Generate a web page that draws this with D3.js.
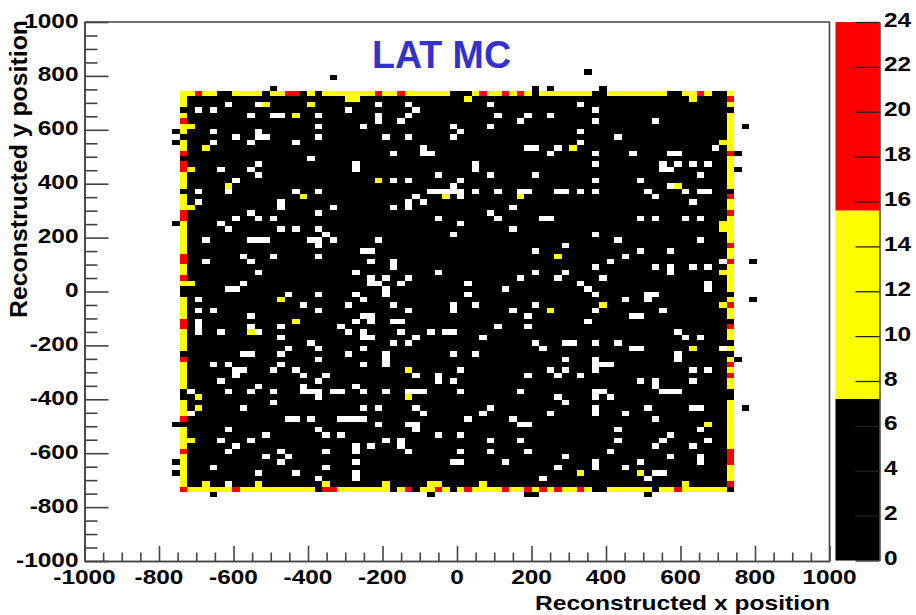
<!DOCTYPE html>
<html>
<head>
<meta charset="utf-8">
<script src="https://cdn.jsdelivr.net/npm/d3@7"></script>
<style>
  html, body { margin: 0; padding: 0; background: #fff; }
  svg { display: block; }
  text { font-family: "Liberation Sans", Arial, sans-serif; fill: #000; }
</style>
</head>
<body>
<svg id="chart"></svg>
<script>
// Colour bands of the palette, and the counts read for each colour
const bandStops = [0, 7.2, 15.6, 24];
const bandColors = ["#000000", "#ffff00", "#ff0000"];
const paletteTicks = [0, 2, 4, 6, 8, 10, 12, 14, 16, 18, 20, 22, 24];
const axisTicks = [-1000, -800, -600, -400, -200, 0, 200, 400, 600, 800, 1000];
const codeCounts = { b: 3, y: 12, r: 20 };

// The filled area is 74 x 74 bins, row 0 on top. Outer bins as code strings
const topRow = "yy r yy bb yyyy b yy rr b y b yyyyyyy r yy r yyyyyy bbb y r yy r y r y b yyyyyyy bb yyyyyyyy bb yy r y bb y";
const bottomRow = "r yyyyyy r yyyyyyyyyy b rr yyyyyyy b y r b yy r y b y r yyyy r yy r y r y r yy r y bb yyyyyy b yy r yyyyyy b";
const leftCol = "yyy b y r yy b yy r b rr yyy b yyy rr yyyyyy rr yy r y bb yyyy rr yyyy b r yyyyy bb yyy r b yyyy r yyyyyy r";
const rightCol = "y r y b yyyyyyy r yyyyyy b r yy r yyyyy r yy r yyyyy b y r yy b r yy b y b y r y r yy bb yyyyyyyyy rrr yyy r b";

// Empty bins per row: first number is the row, the rest are columns
const emptyBins = [
  [2, 6, 10, 26, 30, 41, 53],
  [3, 2, 4, 22, 31, 55],
  [4, 9, 12, 13, 18, 26, 30, 42, 46, 49],
  [5, 26, 29, 45, 55, 63],
  [6, 18, 24, 36, 41],
  [7, 4, 10, 37, 53],
  [8, 7, 10, 11, 18, 27, 30, 36, 58],
  [9, 4, 9, 15, 53],
  [10, 32, 46, 47, 50, 71],
  [11, 28, 32, 33, 49, 55, 60, 65, 66],
  [12, 17],
  [13, 10, 23, 39, 55, 64, 66, 68, 70],
  [14, 5, 9, 23, 39, 64, 65],
  [15, 10, 34, 41, 47, 69],
  [16, 7, 28, 30, 37, 55, 61],
  [17, 36, 65],
  [18, 2, 6, 15, 18, 33, 34, 35, 36, 37, 39, 42, 45, 46, 50, 51, 53, 55, 62, 67, 69, 70],
  [19, 31, 37, 63],
  [20, 2, 13, 30, 32, 68],
  [21, 13, 20, 28, 30, 44],
  [22, 9, 18, 41],
  [23, 7, 10, 12, 34, 42, 48, 49, 61, 63, 67, 69],
  [24, 5, 37],
  [25, 6, 13, 15, 18, 44],
  [26, 19, 36, 55],
  [27, 3, 9, 10, 11, 17, 18, 20, 26, 58, 69],
  [28, 18, 51],
  [29, 24, 25, 47, 61, 65],
  [30, 8, 12, 18, 59],
  [31, 3, 9, 25, 28, 57, 72],
  [32, 28, 55, 63, 65, 68, 70],
  [33, 10, 23, 34, 47, 51, 65],
  [34, 25, 27, 30, 45, 50, 56],
  [35, 8, 25, 26, 29, 38, 53, 70],
  [36, 6, 7, 27, 43, 54, 70],
  [37, 14, 18, 23, 27, 38, 55, 62, 63],
  [38, 2, 24, 59, 62],
  [39, 16, 22, 28, 36, 39, 47],
  [40, 2, 4, 18, 30, 36, 44, 55, 64],
  [41, 9, 24, 25, 46, 60, 61],
  [42, 2, 23, 25, 28, 29, 54],
  [43, 2, 9, 13, 21, 42, 46],
  [44, 2, 5, 10, 22, 24, 29, 33, 35, 36, 66],
  [45, 13, 24, 25, 31, 40, 67, 69],
  [46, 17, 28, 30, 47, 51, 52, 55, 58],
  [47, 14, 18, 24, 48, 60, 61, 72],
  [48, 8, 9, 13, 22, 27, 36, 39, 66],
  [49, 18, 27, 51, 55, 66],
  [50, 4, 6, 13, 24, 27, 55, 56, 57],
  [51, 7, 8, 12, 15, 37, 49, 51, 55, 68, 70],
  [52, 7, 16, 19, 31, 34, 46, 50, 53],
  [53, 5, 18, 34, 36, 61, 63, 68],
  [54, 10, 16, 23, 63],
  [55, 1, 6, 9, 12, 16, 17, 18, 20, 21, 24, 27, 30, 31, 32, 37, 45, 55, 56, 64, 65, 66],
  [56, 18, 50, 55, 57],
  [57, 12, 51],
  [58, 8, 24, 26, 31, 41, 55, 62, 68, 69],
  [59, 1, 32, 40, 49, 55, 59],
  [60, 14, 15, 17, 21, 22, 23, 24, 38, 44, 63],
  [61, 26, 30, 31, 45, 46],
  [62, 6, 18, 31, 58, 69],
  [63, 11, 19, 21, 34, 37, 65],
  [64, 5, 9, 27, 29, 41, 45, 58, 64, 70],
  [65, 7, 23, 25, 29, 63, 68],
  [66, 6, 13, 19, 23, 30, 37, 41, 46, 57],
  [67, 11, 14, 51, 65, 69],
  [68, 13, 23, 36, 37, 43, 55, 61, 69],
  [69, 4, 19, 50, 55, 59],
  [70, 10, 15, 23, 63, 64],
  [71, 18, 23, 48, 62],
  [72, 6]
];

// Inner bins with a higher count, [row, col]
const yellowBins = [
  [1, 22], [1, 23], [1, 38], [1, 68], [2, 11], [2, 17], [4, 15], [6, 1], [9, 72], [10, 3], [10, 52],
  [14, 1], [16, 26], [17, 6], [17, 66], [19, 16], [19, 35], [19, 45], [21, 1], [24, 72], [25, 72],
  [30, 50], [33, 72], [35, 1], [38, 13], [39, 56], [39, 72], [40, 49], [42, 15], [44, 9], [47, 68],
  [51, 30], [56, 2], [56, 30], [58, 2], [61, 70], [64, 1], [70, 53], [70, 61], [72, 3], [72, 10],
  [72, 19], [72, 27], [72, 33], [72, 34], [72, 40], [72, 67]
];

// Black bins outside the filled area, [row, col]
const outlierBins = [
  [-4, 54], [-3, 20], [-1, 12], [-1, 47], [-1, 49], [-1, 56], [6, 75], [7, -1], [9, -1], [11, 74],
  [14, 74], [24, -1], [31, 76], [38, 76], [49, 74], [58, 75], [61, -1], [68, -1], [70, -1],
  [74, 4], [74, 33], [74, 46], [74, 47], [74, 62]
];

const width = 916, height = 615;
const margin = { top: 22, right: 86.5, bottom: 54, left: 84.5 };
const binCount = 74, binExtent = 744;

const svg = d3.select("#chart").attr("width", width).attr("height", height);

const xScale = d3.scaleLinear().domain([-1000, 1000]).range([margin.left, width - margin.right]);
const yScale = d3.scaleLinear().domain([-1000, 1000]).range([height - margin.bottom, margin.top]);
const colBin = d3.scaleLinear().domain([0, binCount]).range([-binExtent, binExtent]);
const rowBin = d3.scaleLinear().domain([0, binCount]).range([binExtent, -binExtent]);
const colorScale = d3.scaleThreshold().domain(bandStops.slice(1, 3)).range(bandColors);

// Turn the lists into bins
const codes = s => s.replace(/ /g, "");
const grid = d3.range(binCount).map(() => d3.range(binCount).map(() => codeCounts.b));
codes(topRow).split("").forEach((c, i) => { grid[0][i] = codeCounts[c]; });
codes(bottomRow).split("").forEach((c, i) => { grid[binCount - 1][i] = codeCounts[c]; });
codes(leftCol).split("").forEach((c, i) => { grid[i][0] = codeCounts[c]; });
codes(rightCol).split("").forEach((c, i) => { grid[i][binCount - 1] = codeCounts[c]; });
yellowBins.forEach(([r, c]) => { grid[r][c] = codeCounts.y; });
emptyBins.forEach(([r, ...cols]) => cols.forEach(c => { grid[r][c] = 0; }));

const cells = [];
grid.forEach((row, r) => row.forEach((count, c) => {
  if (count > 0) cells.push({ row: r, col: c, count: count });
}));
outlierBins.forEach(([r, c]) => cells.push({ row: r, col: c, count: codeCounts.b }));

svg.append("g")
  .attr("class", "cells")
  .style("filter", "blur(0.45px)")
  .selectAll("rect")
  .data(cells)
  .join("rect")
  .attr("x", d => xScale(colBin(d.col)))
  .attr("y", d => yScale(rowBin(d.row)))
  .attr("width", d => xScale(colBin(d.col + 1)) - xScale(colBin(d.col)))
  .attr("height", d => yScale(rowBin(d.row + 1)) - yScale(rowBin(d.row)))
  .attr("shape-rendering", "crispEdges")
  .attr("fill", d => colorScale(d.count));

// Frame on top and right
const axisColor = "#444";
svg.append("path")
  .attr("d", `M${xScale(-1000)},${yScale(1000)}H${xScale(1000)}V${yScale(-1000)}`)
  .attr("fill", "none")
  .attr("stroke", axisColor)
  .attr("stroke-width", 1.6);

const minorTicks = d3.range(-1000, 1001, 50).filter(v => v % 200 !== 0);

function styleAxis(g) {
  g.selectAll("path, line").attr("stroke", axisColor).attr("stroke-width", 1.6);
}

// Tick labels of the source are stretched wide, so labels are drawn by hand below
const xMinor = svg.append("g")
  .attr("transform", `translate(0,${yScale(-1000)})`)
  .call(d3.axisTop(xScale).tickValues(minorTicks).tickSize(8.5).tickSizeOuter(0).tickFormat(""));
const xMajor = svg.append("g")
  .attr("transform", `translate(0,${yScale(-1000)})`)
  .call(d3.axisTop(xScale).tickValues(axisTicks).tickSize(15).tickSizeOuter(0).tickFormat(""));
const yMinor = svg.append("g")
  .attr("transform", `translate(${xScale(-1000)},0)`)
  .call(d3.axisRight(yScale).tickValues(minorTicks).tickSize(13).tickSizeOuter(0).tickFormat(""));
const yMajor = svg.append("g")
  .attr("transform", `translate(${xScale(-1000)},0)`)
  .call(d3.axisRight(yScale).tickValues(axisTicks).tickSize(24).tickSizeOuter(0).tickFormat(""));
[xMinor, xMajor, yMinor, yMajor].forEach(styleAxis);

const stretch = 1.22;
function wideText(x, y, anchor, label, size) {
  svg.append("text")
    .attr("transform", `translate(${x},${y}) scale(${stretch},1)`)
    .attr("text-anchor", anchor)
    .attr("font-size", size)
    .attr("font-weight", "bold")
    .text(label);
}
axisTicks.forEach(v => {
  wideText(xScale(v), 584, "middle", String(v), 20);
  wideText(78.5, yScale(v) + 5.5, "end", String(v), 20);
});

// Palette
const paletteX = 835.5, paletteW = 44;
const zScale = d3.scaleLinear().domain([0, 24]).range([560.5, 22]);
const bands = d3.range(bandColors.length).map(i => ({ from: bandStops[i], to: bandStops[i + 1], color: bandColors[i] }));
svg.append("g")
  .selectAll("rect")
  .data(bands)
  .join("rect")
  .attr("x", paletteX)
  .attr("width", paletteW)
  .attr("y", d => zScale(d.to))
  .attr("height", d => zScale(d.from) - zScale(d.to))
  .attr("fill", d => d.color);

const zAxis = svg.append("g")
  .attr("transform", `translate(${paletteX + paletteW},0)`)
  .call(d3.axisLeft(zScale).tickValues(paletteTicks).tickSize(24).tickSizeOuter(0).tickFormat(""));
zAxis.selectAll("path, line").attr("stroke", "#222").attr("stroke-width", 1.3);

paletteTicks.forEach(v => {
  wideText(884, zScale(v) + 4.5, "start", String(v), 20);
});

// Titles
svg.append("text")
  .attr("x", 372)
  .attr("y", 68)
  .attr("font-size", 38)
  .attr("font-weight", "bold")
  .attr("textLength", 139)
  .attr("lengthAdjust", "spacingAndGlyphs")
  .style("fill", "#3333cc")
  .text("LAT MC");

svg.append("text")
  .attr("x", 535)
  .attr("y", 610)
  .attr("font-size", 21)
  .attr("font-weight", "bold")
  .attr("textLength", 295)
  .attr("lengthAdjust", "spacingAndGlyphs")
  .text("Reconstructed x position");

svg.append("text")
  .attr("transform", "translate(27,318) rotate(-90)")
  .attr("font-size", 24)
  .attr("font-weight", "bold")
  .attr("textLength", 298)
  .attr("lengthAdjust", "spacingAndGlyphs")
  .text("Reconstructed y position");
</script>
</body>
</html>
